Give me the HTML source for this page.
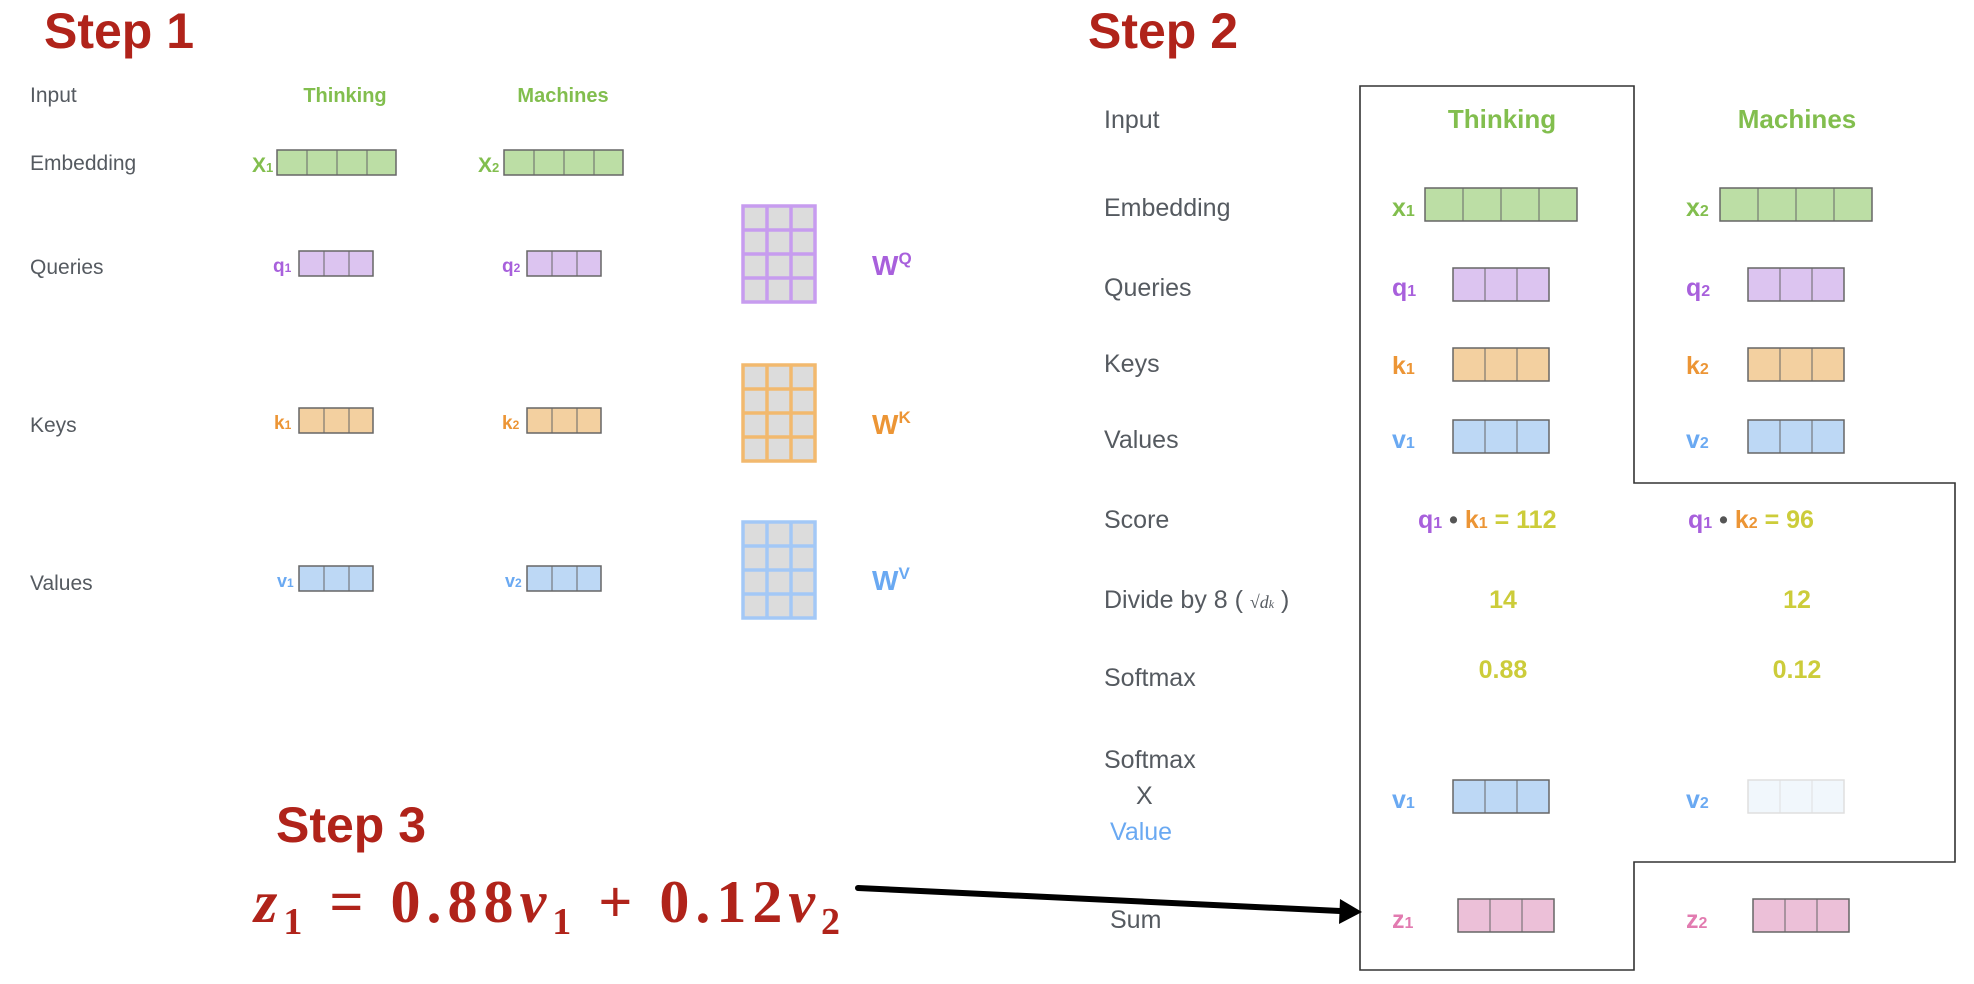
<!DOCTYPE html>
<html><head><meta charset="utf-8"><style>
html,body{margin:0;padding:0;background:#fff;}
svg{display:block;}
text{font-family:"Liberation Sans",sans-serif;}
.lab{fill:#555a60;font-size:21px;}
.lab2{fill:#555a60;font-size:25px;}
.st{fill:#b0231a;font-weight:bold;font-size:50px;}
.g{fill:#82be4e;font-weight:bold;}
.p{fill:#a860dc;font-weight:bold;}
.o{fill:#ec9535;font-weight:bold;}
.b{fill:#6aa9f2;font-weight:bold;}
.pk{fill:#e27bb0;font-weight:bold;}
.y{fill:#cccc3a;font-weight:bold;}
text.eq{font-family:"Liberation Serif",serif;letter-spacing:6px;}
</style></head><body>
<svg width="1974" height="984" viewBox="0 0 1974 984" xmlns="http://www.w3.org/2000/svg">
<defs>
<g id="c4"><rect x="0" y="0" width="119" height="25" stroke="#666" stroke-width="1.5"/><line x1="30" y1="0" x2="30" y2="25" stroke="#666"/><line x1="60" y1="0" x2="60" y2="25" stroke="#666"/><line x1="90" y1="0" x2="90" y2="25" stroke="#666"/></g>
<g id="c3"><rect x="0" y="0" width="74" height="25" stroke="#666" stroke-width="1.5"/><line x1="25" y1="0" x2="25" y2="25" stroke="#666"/><line x1="50" y1="0" x2="50" y2="25" stroke="#666"/></g>
<g id="b4"><rect x="0" y="0" width="152" height="33" stroke="#666" stroke-width="1.5"/><line x1="38" y1="0" x2="38" y2="33" stroke="#666"/><line x1="76" y1="0" x2="76" y2="33" stroke="#666"/><line x1="114" y1="0" x2="114" y2="33" stroke="#666"/></g>
<g id="b3"><rect x="0" y="0" width="96" height="33" stroke="#666" stroke-width="1.5"/><line x1="32" y1="0" x2="32" y2="33" stroke="#666"/><line x1="64" y1="0" x2="64" y2="33" stroke="#666"/></g>
<g id="mat"><rect x="2" y="2" width="72" height="96" fill="#dcdcdc"/>
<path d="M2 2H74V98H2Z M26 2V98 M50 2V98 M2 26H74 M2 50H74 M2 74H74" fill="none" stroke-width="3.5"/></g>
</defs>

<!-- Step 1 -->
<text x="44" y="48" class="st">Step 1</text>
<text x="30" y="102" class="lab">Input</text>
<text x="30" y="170" class="lab">Embedding</text>
<text x="30" y="274" class="lab">Queries</text>
<text x="30" y="432" class="lab">Keys</text>
<text x="30" y="590" class="lab">Values</text>
<text x="345" y="102" class="g" font-size="20" text-anchor="middle">Thinking</text>
<text x="563" y="102" class="g" font-size="20" text-anchor="middle">Machines</text>

<text x="252" y="172" class="g" font-size="21">X<tspan font-size="13">1</tspan></text>
<use href="#c4" x="277" y="150" fill="#bcdea5"/>
<text x="478" y="172" class="g" font-size="21">X<tspan font-size="13">2</tspan></text>
<use href="#c4" x="504" y="150" fill="#bcdea5"/>

<text x="273" y="272" class="p" font-size="19">q<tspan font-size="12">1</tspan></text>
<use href="#c3" x="299" y="251" fill="#dcc4f0"/>
<text x="502" y="272" class="p" font-size="19">q<tspan font-size="12">2</tspan></text>
<use href="#c3" x="527" y="251" fill="#dcc4f0"/>

<text x="274" y="429" class="o" font-size="19">k<tspan font-size="12">1</tspan></text>
<use href="#c3" x="299" y="408" fill="#f3d0a0"/>
<text x="502" y="429" class="o" font-size="19">k<tspan font-size="12">2</tspan></text>
<use href="#c3" x="527" y="408" fill="#f3d0a0"/>

<text x="277" y="587" class="b" font-size="18">v<tspan font-size="12">1</tspan></text>
<use href="#c3" x="299" y="566" fill="#bdd8f5"/>
<text x="505" y="587" class="b" font-size="18">v<tspan font-size="12">2</tspan></text>
<use href="#c3" x="527" y="566" fill="#bdd8f5"/>

<use href="#mat" x="741" y="204" stroke="#c79cef"/>
<use href="#mat" x="741" y="363" stroke="#f2b96e"/>
<use href="#mat" x="741" y="520" stroke="#a3c8f6"/>
<text x="872" y="275" class="p" font-size="28">W<tspan font-size="17" dy="-11">Q</tspan></text>
<text x="872" y="434" class="o" font-size="28">W<tspan font-size="17" dy="-11">K</tspan></text>
<text x="872" y="590" class="b" font-size="28">W<tspan font-size="17" dy="-11">V</tspan></text>

<!-- Step 2 -->
<text x="1088" y="48" class="st">Step 2</text>
<path d="M1360 86H1634V483H1955V862H1634V970H1360Z" fill="none" stroke="#333" stroke-width="1.6"/>
<text x="1104" y="128" class="lab2">Input</text>
<text x="1104" y="216" class="lab2">Embedding</text>
<text x="1104" y="296" class="lab2">Queries</text>
<text x="1104" y="372" class="lab2">Keys</text>
<text x="1104" y="448" class="lab2">Values</text>
<text x="1104" y="528" class="lab2">Score</text>
<text x="1104" y="608" class="lab2">Divide by 8 ( <tspan style="font-family:'Liberation Serif',serif" font-style="italic" font-size="18">√d<tspan font-size="12">k</tspan></tspan>  )</text>
<text x="1104" y="686" class="lab2">Softmax</text>
<text x="1104" y="768" class="lab2">Softmax</text>
<text x="1136" y="804" class="lab2">X</text>
<text x="1110" y="840" class="lab2" style="fill:#6aa9f2">Value</text>
<text x="1110" y="928" class="lab2">Sum</text>

<text x="1502" y="128" class="g" font-size="26" text-anchor="middle">Thinking</text>
<text x="1797" y="128" class="g" font-size="26" text-anchor="middle">Machines</text>

<text x="1392" y="216" class="g" font-size="25">x<tspan font-size="16">1</tspan></text>
<use href="#b4" x="1425" y="188" fill="#bcdea5"/>
<text x="1686" y="216" class="g" font-size="25">x<tspan font-size="16">2</tspan></text>
<use href="#b4" x="1720" y="188" fill="#bcdea5"/>

<text x="1392" y="296" class="p" font-size="25">q<tspan font-size="16">1</tspan></text>
<use href="#b3" x="1453" y="268" fill="#dcc4f0"/>
<text x="1686" y="296" class="p" font-size="25">q<tspan font-size="16">2</tspan></text>
<use href="#b3" x="1748" y="268" fill="#dcc4f0"/>

<text x="1392" y="374" class="o" font-size="25">k<tspan font-size="16">1</tspan></text>
<use href="#b3" x="1453" y="348" fill="#f3d0a0"/>
<text x="1686" y="374" class="o" font-size="25">k<tspan font-size="16">2</tspan></text>
<use href="#b3" x="1748" y="348" fill="#f3d0a0"/>

<text x="1392" y="448" class="b" font-size="25">v<tspan font-size="16">1</tspan></text>
<use href="#b3" x="1453" y="420" fill="#bdd8f5"/>
<text x="1686" y="448" class="b" font-size="25">v<tspan font-size="16">2</tspan></text>
<use href="#b3" x="1748" y="420" fill="#bdd8f5"/>

<text x="1418" y="528" font-size="25" font-weight="bold"><tspan class="p">q<tspan font-size="16">1</tspan></tspan><tspan fill="#555"> • </tspan><tspan class="o">k<tspan font-size="16">1</tspan></tspan><tspan class="y"> = 112</tspan></text>
<text x="1688" y="528" font-size="25" font-weight="bold"><tspan class="p">q<tspan font-size="16">1</tspan></tspan><tspan fill="#555"> • </tspan><tspan class="o">k<tspan font-size="16">2</tspan></tspan><tspan class="y"> = 96</tspan></text>
<text x="1503" y="608" class="y" font-size="25" text-anchor="middle">14</text>
<text x="1797" y="608" class="y" font-size="25" text-anchor="middle">12</text>
<text x="1503" y="678" class="y" font-size="25" text-anchor="middle">0.88</text>
<text x="1797" y="678" class="y" font-size="25" text-anchor="middle">0.12</text>

<text x="1392" y="808" class="b" font-size="25">v<tspan font-size="16">1</tspan></text>
<use href="#b3" x="1453" y="780" fill="#bdd8f5"/>
<text x="1686" y="808" class="b" font-size="25">v<tspan font-size="16">2</tspan></text>
<g opacity="0.2"><use href="#b3" x="1748" y="780" fill="#bdd8f5"/></g>

<text x="1392" y="928" class="pk" font-size="25">z<tspan font-size="16">1</tspan></text>
<use href="#b3" x="1458" y="899" fill="#ecc0d8"/>
<text x="1686" y="928" class="pk" font-size="25">z<tspan font-size="16">2</tspan></text>
<use href="#b3" x="1753" y="899" fill="#ecc0d8"/>

<!-- Step 3 -->
<text x="276" y="842" class="st">Step 3</text>
<text x="254" y="922" class="eq" fill="#b0231a" font-weight="bold" font-size="60"><tspan font-style="italic">z</tspan><tspan font-size="38" dy="12">1</tspan><tspan dy="-12"> = 0.88</tspan><tspan font-style="italic">v</tspan><tspan font-size="38" dy="12">1</tspan><tspan dy="-12"> + 0.12</tspan><tspan font-style="italic">v</tspan><tspan font-size="38" dy="12">2</tspan></text>
<line x1="858" y1="888" x2="1340" y2="911" stroke="#000" stroke-width="6" stroke-linecap="round"/>
<polygon points="1362,912 1340,899 1339,924" fill="#000"/>
</svg>
</body></html>
